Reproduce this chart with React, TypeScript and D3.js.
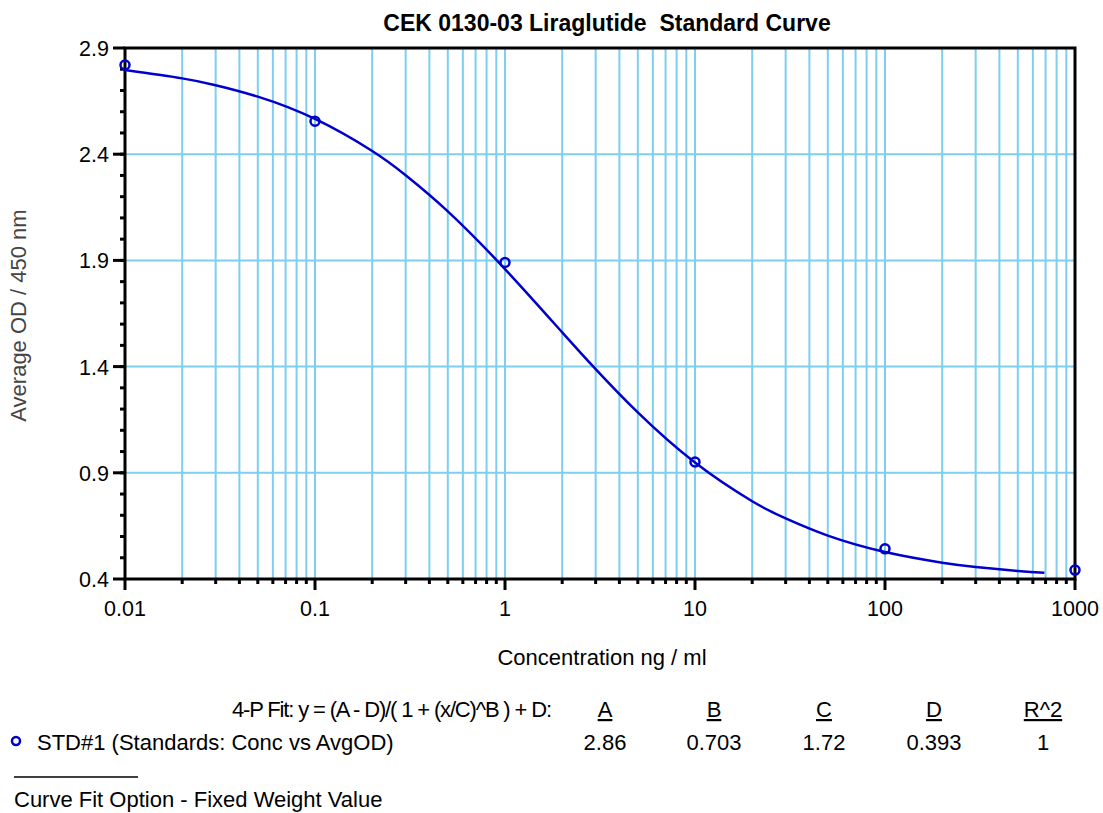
import * as d3 from 'd3';

// standards (circles)
const stdConc = [0.01, 0.1, 1, 10, 100, 1000];
const stdOD = [2.82, 2.555, 1.89, 0.951, 0.542, 0.442];

// fitted curve
const fitConc = [0.01, 0.02, 0.03, 0.05, 0.1, 0.2, 0.3, 0.5, 1, 2, 3, 5, 10, 20, 30, 50, 100, 200, 300, 500, 690];
const fitOD = [2.796, 2.757, 2.725, 2.671, 2.566, 2.415, 2.301, 2.131, 1.859, 1.561, 1.388, 1.184, 0.948, 0.766, 0.685, 0.604, 0.527, 0.477, 0.457, 0.438, 0.429];

const yTicks = [0.4, 0.9, 1.4, 1.9, 2.4, 2.9];
const xTicks = [0.01, 0.1, 1, 10, 100, 1000];
const xTickLabels = ['0.01', '0.1', '1', '10', '100', '1000'];

const fitHeaders = ['A', 'B', 'C', 'D', 'R^2'];
const fitValues = ['2.86', '0.703', '1.72', '0.393', '1'];

const font = 'Liberation Sans, Arial, sans-serif';
const gridColor = '#7dcff0';
const blue = '#0000cc';

export default function App() {
  const width = 1103;
  const height = 813;
  const m = { left: 125, right: 1075, top: 48, bottom: 579 };

  const x = d3.scaleLog().domain([0.01, 1000]).range([m.left, m.right]);
  const y = d3.scaleLinear().domain([0.4, 2.9]).range([m.bottom, m.top]);

  // minor positions on the log axis: 2..9 in each decade
  const minorX: number[] = [];
  for (let e = -2; e < 3; e++) {
    for (let k = 2; k <= 9; k++) minorX.push(k * Math.pow(10, e));
  }
  // minor y ticks every 0.1
  const minorY = d3.range(5, 29).map((v) => v / 10);

  const fitData = fitConc.map((c, i) => [c, fitOD[i]] as [number, number]);
  const line = d3
    .line<[number, number]>()
    .x((d) => x(d[0]))
    .y((d) => y(d[1]))
    .curve(d3.curveNatural);

  const colX = [605, 714, 824, 934, 1043];

  return (
    <svg width={width} height={height} style={{ position: 'absolute', left: 0, top: 0, background: '#fff' }} fontFamily={font}>
      <text x={607} y={31} textAnchor="middle" fontSize={23} fontWeight="bold">
        CEK 0130-03 Liraglutide{'\u00a0\u00a0'}Standard Curve
      </text>

      {/* grid */}
      {minorX.concat([0.1, 1, 10, 100]).map((v, i) => (
        <line key={'gx' + i} x1={x(v)} x2={x(v)} y1={m.top} y2={m.bottom} stroke={gridColor} strokeWidth={2} />
      ))}
      {yTicks.slice(1, -1).map((v, i) => (
        <line key={'gy' + i} x1={m.left} x2={m.right} y1={y(v)} y2={y(v)} stroke={gridColor} strokeWidth={2} />
      ))}

      {/* frame */}
      <rect x={m.left} y={m.top} width={m.right - m.left} height={m.bottom - m.top} fill="none" stroke="#000" strokeWidth={3} />

      {/* y ticks */}
      {minorY.map((v, i) => (
        <line key={'my' + i} x1={m.left - 5} x2={m.left} y1={y(v)} y2={y(v)} stroke="#000" strokeWidth={3} />
      ))}
      {yTicks.map((v, i) => (
        <g key={'ty' + i}>
          <line x1={m.left - 12} x2={m.left} y1={y(v)} y2={y(v)} stroke="#000" strokeWidth={3} />
          <text x={109} y={y(v) + 8} textAnchor="end" fontSize={21.5}>
            {d3.format('.1f')(v)}
          </text>
        </g>
      ))}

      {/* x ticks */}
      {minorX.map((v, i) => (
        <line key={'mx' + i} x1={x(v)} x2={x(v)} y1={m.bottom} y2={m.bottom + 5} stroke="#000" strokeWidth={3} />
      ))}
      {xTicks.map((v, i) => (
        <g key={'tx' + i}>
          <line x1={x(v)} x2={x(v)} y1={m.bottom} y2={m.bottom + 11} stroke="#000" strokeWidth={3} />
          <text x={x(v)} y={616} textAnchor="middle" fontSize={21.5}>
            {xTickLabels[i]}
          </text>
        </g>
      ))}

      <text x={602} y={665} textAnchor="middle" fontSize={22}>
        Concentration ng / ml
      </text>
      <text transform={`translate(26,${(m.top + m.bottom) / 2 + 2}) rotate(-90)`} textAnchor="middle" fontSize={22} fill="#444">
        Average OD / 450 nm
      </text>

      {/* curve and standards */}
      <path d={line(fitData) ?? ''} fill="none" stroke={blue} strokeWidth={2.5} />
      {stdConc.map((c, i) => (
        <circle key={'p' + i} cx={x(c)} cy={y(stdOD[i])} r={4.5} fill="none" stroke={blue} strokeWidth={2.5} />
      ))}

      {/* fit legend */}
      <text x={232} y={717} fontSize={22} textLength={320} lengthAdjust="spacing">
        4-P Fit: y = (A - D)/( 1 + (x/C)^B ) + D:
      </text>
      {fitHeaders.map((h, i) => (
        <text key={'h' + i} x={colX[i]} y={717} textAnchor="middle" fontSize={22} textDecoration="underline">
          {h}
        </text>
      ))}
      <circle cx={16} cy={741} r={4} fill="none" stroke={blue} strokeWidth={2.5} />
      <text x={37} y={750} fontSize={22}>
        STD#1 (Standards: Conc vs AvgOD)
      </text>
      {fitValues.map((v, i) => (
        <text key={'v' + i} x={colX[i]} y={750} textAnchor="middle" fontSize={22}>
          {v}
        </text>
      ))}
      <line x1={14} x2={138} y1={777} y2={777} stroke="#000" strokeWidth={1.5} />
      <text x={14} y={807} fontSize={22}>
        Curve Fit Option - Fixed Weight Value
      </text>
    </svg>
  );
}
